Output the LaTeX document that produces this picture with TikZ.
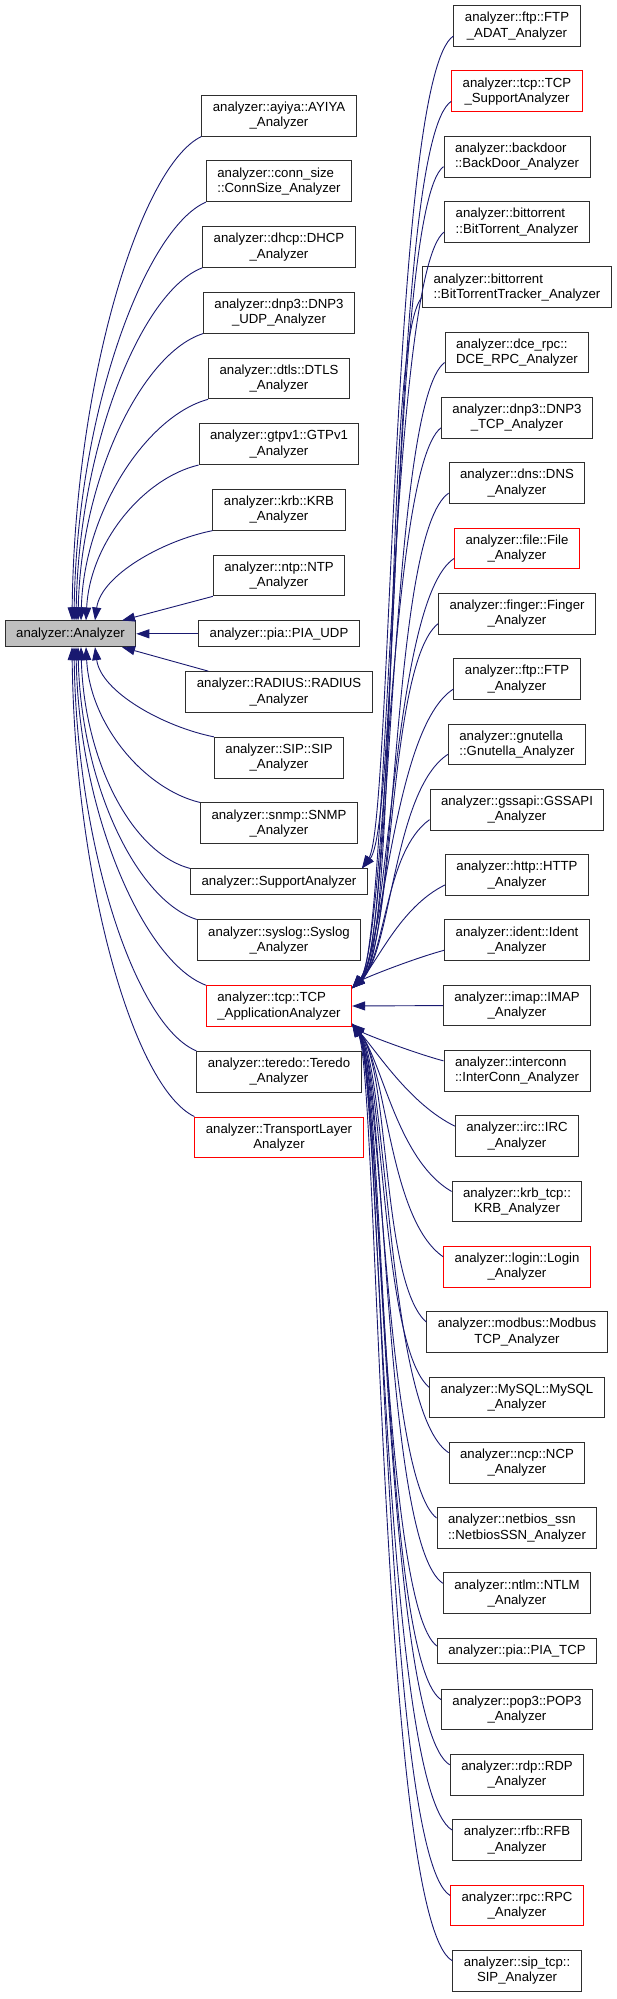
\documentclass[tikz,border=0pt]{standalone}
\usepackage{fontspec}
\setmainfont{Liberation Sans}
\usetikzlibrary{arrows.meta}
\definecolor{edgeblue}{HTML}{191970}
\definecolor{basegray}{HTML}{BFBFBF}
\tikzset{
  cls/.style={draw=black!82, line width=1pt, font=\fontsize{13.2}{15.3}\selectfont,
    align=center, inner xsep=11pt, inner ysep=2pt, minimum height=40.7pt},
  one/.style={cls, minimum height=25.7pt},
  cut/.style={draw=red},
  lft/.style={align=left},
  inh/.style={edgeblue, line width=0.9pt, {Triangle[length=13pt,width=9pt]}-},
}
\begin{document}
\begin{tikzpicture}[x=1pt,y=-1pt]
    \useasboundingbox (0,0) rectangle (617,1999);
    \node[one, fill=basegray] (ana) at (70.5,633.8) {analyzer::Analyzer};

    \node[cls] (ayiya) at (279,115.7) {analyzer::ayiya::AYIYA\\\_Analyzer};
    \node[cls,lft] (connsize) at (279,181.3) {analyzer::conn\_size\\::ConnSize\_Analyzer};
    \node[cls] (dhcp) at (279,247) {analyzer::dhcp::DHCP\\\_Analyzer};
    \node[cls] (dnpudp) at (279,312.8) {analyzer::dnp3::DNP3\\\_UDP\_Analyzer};
    \node[cls] (dtls) at (279,378.5) {analyzer::dtls::DTLS\\\_Analyzer};
    \node[cls] (gtpv) at (279,444.2) {analyzer::gtpv1::GTPv1\\\_Analyzer};
    \node[cls] (krb) at (279,509.8) {analyzer::krb::KRB\\\_Analyzer};
    \node[cls] (ntp) at (279,575.5) {analyzer::ntp::NTP\\\_Analyzer};
    \node[one] (piaudp) at (279,633.8) {analyzer::pia::PIA\_UDP};
    \node[cls] (radius) at (279,692) {analyzer::RADIUS::RADIUS\\\_Analyzer};
    \node[cls] (sip) at (279,757.7) {analyzer::SIP::SIP\\\_Analyzer};
    \node[cls] (snmp) at (279,823.3) {analyzer::snmp::SNMP\\\_Analyzer};
    \node[one] (support) at (279,881.8) {analyzer::SupportAnalyzer};
    \node[cls] (syslog) at (279,940.3) {analyzer::syslog::Syslog\\\_Analyzer};
    \node[cls,cut,lft] (tcpapp) at (279,1006) {analyzer::tcp::TCP\\\_ApplicationAnalyzer};
    \node[cls] (teredo) at (279,1071.7) {analyzer::teredo::Teredo\\\_Analyzer};
    \node[cls,cut] (transport) at (279,1137.4) {analyzer::TransportLayer\\Analyzer};

    \node[cls] (ftpadat) at (517,26.05) {analyzer::ftp::FTP\\\_ADAT\_Analyzer};
    \node[cls,cut] (tcpsupport) at (517,91.35) {analyzer::tcp::TCP\\\_SupportAnalyzer};
    \node[cls,lft] (backdoor) at (517,156.65) {analyzer::backdoor\\::BackDoor\_Analyzer};
    \node[cls,lft] (bittorrent) at (517,221.95) {analyzer::bittorrent\\::BitTorrent\_Analyzer};
    \node[cls,lft] (tracker) at (517,287.25) {analyzer::bittorrent\\::BitTorrentTracker\_Analyzer};
    \node[cls,lft] (dcerpc) at (517,352.55) {analyzer::dce\_rpc::\\DCE\_RPC\_Analyzer};
    \node[cls] (dnptcp) at (517,417.85) {analyzer::dnp3::DNP3\\\_TCP\_Analyzer};
    \node[cls] (dns) at (517,483.15) {analyzer::dns::DNS\\\_Analyzer};
    \node[cls,cut] (file) at (517,548.45) {analyzer::file::File\\\_Analyzer};
    \node[cls] (finger) at (517,613.75) {analyzer::finger::Finger\\\_Analyzer};
    \node[cls] (ftp) at (517,679.05) {analyzer::ftp::FTP\\\_Analyzer};
    \node[cls,lft] (gnutella) at (517,744.35) {analyzer::gnutella\\::Gnutella\_Analyzer};
    \node[cls] (gssapi) at (517,809.65) {analyzer::gssapi::GSSAPI\\\_Analyzer};
    \node[cls] (http) at (517,874.95) {analyzer::http::HTTP\\\_Analyzer};
    \node[cls] (ident) at (517,940.25) {analyzer::ident::Ident\\\_Analyzer};
    \node[cls] (imap) at (517,1005.55) {analyzer::imap::IMAP\\\_Analyzer};
    \node[cls,lft] (interconn) at (517,1070.85) {analyzer::interconn\\::InterConn\_Analyzer};
    \node[cls] (irc) at (517,1136.15) {analyzer::irc::IRC\\\_Analyzer};
    \node[cls] (krbtcp) at (517,1201.45) {analyzer::krb\_tcp::\\KRB\_Analyzer};
    \node[cls,cut] (login) at (517,1266.75) {analyzer::login::Login\\\_Analyzer};
    \node[cls] (modbus) at (517,1332.05) {analyzer::modbus::Modbus\\TCP\_Analyzer};
    \node[cls] (mysql) at (517,1397.35) {analyzer::MySQL::MySQL\\\_Analyzer};
    \node[cls] (ncp) at (517,1462.65) {analyzer::ncp::NCP\\\_Analyzer};
    \node[cls,lft] (netbios) at (517,1527.95) {analyzer::netbios\_ssn\\::NetbiosSSN\_Analyzer};
    \node[cls] (ntlm) at (517,1593.25) {analyzer::ntlm::NTLM\\\_Analyzer};
    \node[one] (piatcp) at (517,1651) {analyzer::pia::PIA\_TCP};
    \node[cls] (pop) at (517,1709.55) {analyzer::pop3::POP3\\\_Analyzer};
    \node[cls] (rdp) at (517,1774.85) {analyzer::rdp::RDP\\\_Analyzer};
    \node[cls] (rfb) at (517,1840.15) {analyzer::rfb::RFB\\\_Analyzer};
    \node[cls,cut] (rpc) at (517,1905.45) {analyzer::rpc::RPC\\\_Analyzer};
    \node[cls] (siptcp) at (517,1970.75) {analyzer::sip\_tcp::\\SIP\_Analyzer};

    \draw[inh] ([xshift=1.5pt]ana.north) .. controls +(3,-243) and +(-60,29) .. (ayiya.south west);
    \draw[inh] ([xshift=3.5pt]ana.north) .. controls +(3,-210) and +(-60,26) .. (connsize.south west);
    \draw[inh] ([xshift=5.5pt]ana.north) .. controls +(3,-177) and +(-60,23) .. (dhcp.south west);
    \draw[inh] ([xshift=7.5pt]ana.north) .. controls +(3,-144) and +(-60,19) .. (dnpudp.south west);
    \draw[inh] ([xshift=10.5pt]ana.north) .. controls +(3,-111) and +(-60,16) .. (dtls.south west);
    \draw[inh] ([xshift=15.5pt]ana.north) .. controls +(4,-78) and +(-55,13) .. (gtpv.south west);
    \draw[inh] ([xshift=24.5pt]ana.north) .. controls +(6,-45) and +(-50,10) .. (krb.south west);
    \draw[inh] ([xshift=51.5pt]ana.north) -- (ntp.south west);
    \draw[inh] (ana.east) -- (piaudp.west);
    \draw[inh] ([xshift=51.5pt]ana.south) -- ([xshift=23pt]radius.north west);
    \draw[inh] ([xshift=24.5pt]ana.south) .. controls +(6,45) and +(-50,-10) .. (sip.north west);
    \draw[inh] ([xshift=15.5pt]ana.south) .. controls +(4,78) and +(-55,-13) .. (snmp.north west);
    \draw[inh] ([xshift=10.5pt]ana.south) .. controls +(3,111) and +(-60,-16) .. (support.north west);
    \draw[inh] ([xshift=7.5pt]ana.south) .. controls +(3,137) and +(-60,-19) .. (syslog.north west);
    \draw[inh] ([xshift=5.5pt]ana.south) .. controls +(3,170) and +(-60,-22) .. (tcpapp.north west);
    \draw[inh] ([xshift=3.5pt]ana.south) .. controls +(3,203) and +(-60,-25) .. (teredo.north west);
    \draw[inh] ([xshift=1.5pt]ana.south) .. controls +(3,236) and +(-60,-29) .. (transport.north west);

    \draw[inh] ([xshift=-6pt]support.north east) .. controls +(30,-45) and +(-62,40) .. ([yshift=-10pt]ftpadat.west);
    \draw[inh] ([xshift=-6pt]support.north east) .. controls +(38,-45) and +(-60,40) .. ([yshift=-10pt]tcpsupport.west);

    \draw[inh] ([yshift=-3pt]tcpapp.north east) .. controls +(44,-40) and +(-55,40) .. ([yshift=-10pt]backdoor.west);
    \draw[inh] ([yshift=-3pt]tcpapp.north east) .. controls +(36,-40) and +(-55,40) .. ([yshift=-10pt]bittorrent.west);
    \draw[inh] ([yshift=-3pt]tcpapp.north east) .. controls +(48,-40) and +(-40,40) .. ([yshift=-10pt]tracker.west);
    \draw[inh] ([yshift=-3pt]tcpapp.north east) .. controls +(40,-40) and +(-55,40) .. ([yshift=-10pt]dcerpc.west);
    \draw[inh] ([yshift=-3pt]tcpapp.north east) .. controls +(34,-40) and +(-52,40) .. ([yshift=-10pt]dnptcp.west);
    \draw[inh] ([yshift=-3pt]tcpapp.north east) .. controls +(46,-40) and +(-58,40) .. ([yshift=-10pt]dns.west);
    \draw[inh] ([yshift=-3pt]tcpapp.north east) .. controls +(38,-40) and +(-62,40) .. ([yshift=-10pt]file.west);
    \draw[inh] ([yshift=-3pt]tcpapp.north east) .. controls +(42,-40) and +(-50,40) .. ([yshift=-10pt]finger.west);
    \draw[inh] ([yshift=-3pt]tcpapp.north east) .. controls +(32,-38) and +(-60,38) .. ([yshift=-10pt]ftp.west);
    \draw[inh] ([yshift=-3pt]tcpapp.north east) .. controls +(40,-36) and +(-55,36) .. ([yshift=-10pt]gnutella.west);
    \draw[inh] ([yshift=-3pt]tcpapp.north east) .. controls +(34,-32) and +(-45,32) .. ([yshift=-10pt]gssapi.west);
    \draw[inh] ([yshift=-3pt]tcpapp.north east) .. controls +(25,-25) and +(-45,22) .. ([yshift=-10pt]http.west);
    \draw[inh] ([yshift=-3pt]tcpapp.north east) .. controls +(12,-10) and +(-30,8) .. ([yshift=-10pt]ident.west);
    \draw[inh] (tcpapp.east) -- (imap.west);
    \draw[inh] ([yshift=3pt]tcpapp.south east) .. controls +(12,10) and +(-30,-8) .. ([yshift=10pt]interconn.west);
    \draw[inh] ([yshift=3pt]tcpapp.south east) .. controls +(25,28) and +(-45,-22) .. ([yshift=10pt]irc.west);
    \draw[inh] ([yshift=3pt]tcpapp.south east) .. controls +(30,36) and +(-55,-32) .. ([yshift=10pt]krbtcp.west);
    \draw[inh] ([yshift=3pt]tcpapp.south east) .. controls +(35,42) and +(-55,-38) .. ([yshift=10pt]login.west);
    \draw[inh] ([yshift=3pt]tcpapp.south east) .. controls +(38,45) and +(-45,-40) .. ([yshift=10pt]modbus.west);
    \draw[inh] ([yshift=3pt]tcpapp.south east) .. controls +(32,45) and +(-48,-40) .. ([yshift=10pt]mysql.west);
    \draw[inh] ([yshift=3pt]tcpapp.south east) .. controls +(36,45) and +(-62,-40) .. ([yshift=10pt]ncp.west);
    \draw[inh] ([yshift=3pt]tcpapp.south east) .. controls +(30,45) and +(-52,-40) .. ([yshift=10pt]netbios.west);
    \draw[inh] ([yshift=3pt]tcpapp.south east) .. controls +(34,45) and +(-60,-40) .. ([yshift=10pt]ntlm.west);
    \draw[inh] ([yshift=3pt]tcpapp.south east) .. controls +(28,45) and +(-55,-40) .. ([yshift=5pt]piatcp.west);
    \draw[inh] ([yshift=3pt]tcpapp.south east) .. controls +(32,45) and +(-60,-40) .. ([yshift=10pt]pop.west);
    \draw[inh] ([yshift=3pt]tcpapp.south east) .. controls +(30,45) and +(-66,-40) .. ([yshift=10pt]rdp.west);
    \draw[inh] ([yshift=3pt]tcpapp.south east) .. controls +(28,45) and +(-70,-40) .. ([yshift=10pt]rfb.west);
    \draw[inh] ([yshift=3pt]tcpapp.south east) .. controls +(30,45) and +(-68,-40) .. ([yshift=10pt]rpc.west);
    \draw[inh] ([yshift=3pt]tcpapp.south east) .. controls +(26,45) and +(-72,-40) .. ([yshift=10pt]siptcp.west);
\end{tikzpicture}
\end{document}
